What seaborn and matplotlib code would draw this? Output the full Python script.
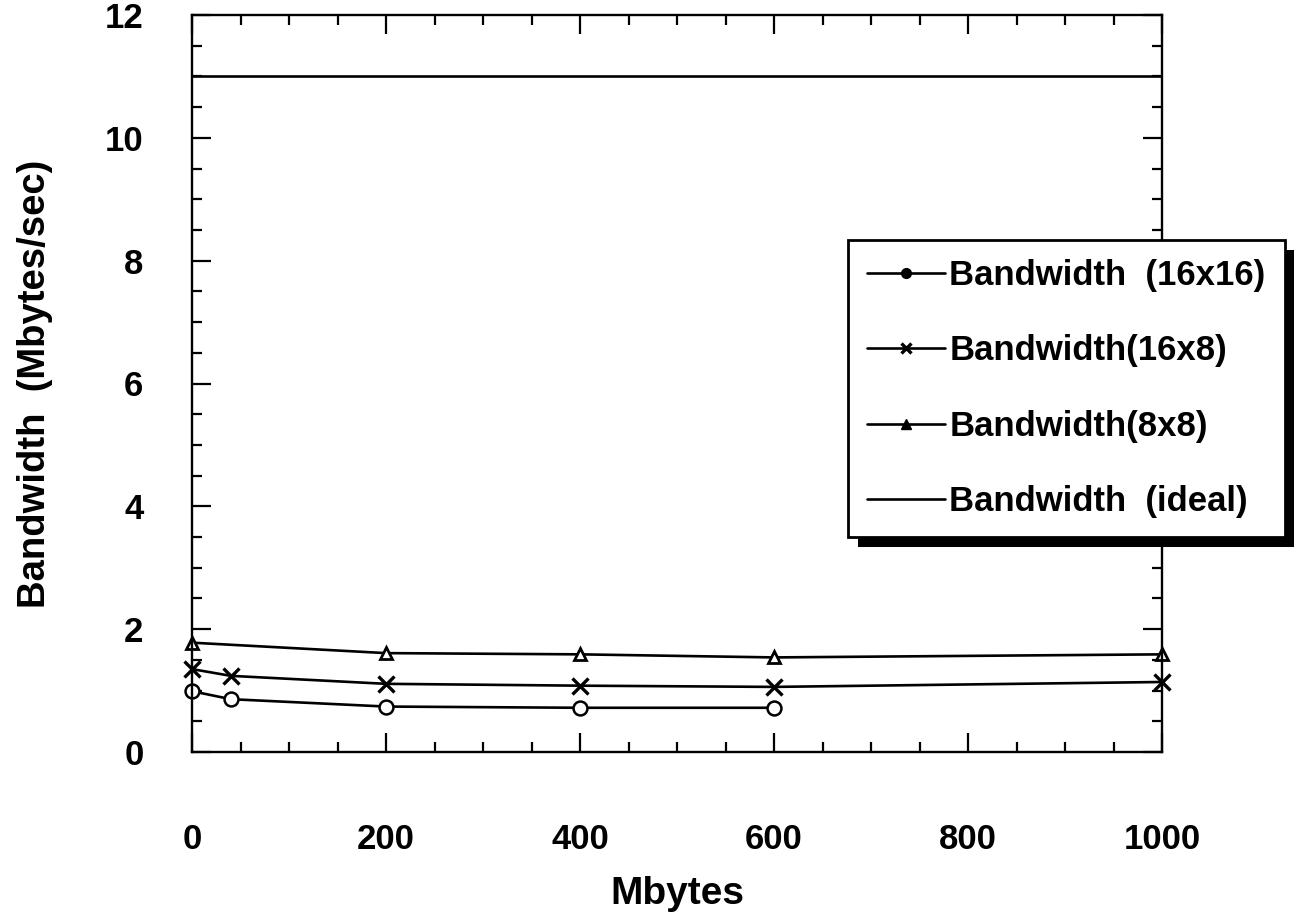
import matplotlib
matplotlib.use("Agg")
import matplotlib.pyplot as plt
import matplotlib.patheffects as pe
from matplotlib.lines import Line2D
from matplotlib.ticker import MultipleLocator
import seaborn as sns

# ---- data ----
x_16x16 = [0, 40, 200, 400, 600]
y_16x16 = [0.99, 0.86, 0.74, 0.72, 0.72]
x_16x8 = [0, 40, 200, 400, 600, 1000]
y_16x8 = [1.35, 1.24, 1.11, 1.08, 1.06, 1.14]
x_8x8 = [0, 200, 400, 600, 1000]
y_8x8 = [1.78, 1.61, 1.59, 1.54, 1.59]
x_ideal = [0, 1000]
y_ideal = [11, 11]
labels = ["Bandwidth  (16x16)", "Bandwidth(16x8)", "Bandwidth(8x8)", "Bandwidth  (ideal)"]
xticks = [0, 200, 400, 600, 800, 1000]
xtick_labels = ["0", "200", "400", "600", "800", "1000"]
yticks = [0, 2, 4, 6, 8, 10, 12]

sns.set_style("ticks")
plt.rcParams["font.family"] = ["Liberation Sans", "DejaVu Sans"]
plt.rcParams["font.weight"] = "bold"
for k in ["text.color", "axes.labelcolor", "xtick.color", "ytick.color", "axes.edgecolor"]:
    plt.rcParams[k] = "black"

fig = plt.figure(figsize=(13.03, 9.24), dpi=100)
ax = fig.add_axes([192 / 1303, 1 - 752 / 924, 970 / 1303, 737 / 924])

lw = 1.9
common = dict(ax=ax, color="black", linewidth=lw, legend=False)
sns.lineplot(x=x_16x16, y=y_16x16, marker="o", markersize=10, markerfacecolor="white",
             markeredgecolor="black", markeredgewidth=1.8, clip_on=False, **common)
sns.lineplot(x=x_16x8, y=y_16x8, marker="x", markersize=11, markeredgecolor="black",
             markeredgewidth=2.4, clip_on=False, **common)
sns.lineplot(x=x_8x8, y=y_8x8, marker="^", markersize=8.5, markerfacecolor="white",
             markeredgecolor="black", markeredgewidth=2.0, clip_on=False, **common)
sns.lineplot(x=x_ideal, y=y_ideal, **common)

ax.set_xlim(0, 1000)
ax.set_ylim(0, 12)
ax.set_xticks(xticks)
ax.set_xticklabels(xtick_labels)
ax.set_yticks(yticks)
ax.xaxis.set_minor_locator(MultipleLocator(50))
ax.yaxis.set_minor_locator(MultipleLocator(0.5))

for s in ax.spines.values():
    s.set_visible(True)
    s.set_linewidth(1.7)
    s.set_color("black")

ax.tick_params(which="both", direction="in", top=True, right=True, width=1.6, color="black")
ax.tick_params(which="major", length=14)
ax.tick_params(which="minor", length=7)
ax.tick_params(axis="x", which="major", pad=51, labelsize=25)
ax.tick_params(axis="y", which="major", pad=35, labelsize=25)
for t in ax.get_xticklabels() + ax.get_yticklabels():
    t.set_fontweight("bold")

ax.set_xlabel("Mbytes", fontsize=28, fontweight="bold")
ax.set_ylabel("Bandwidth  (Mbytes/sec)", fontsize=27.5, fontweight="bold")
ax.xaxis.set_label_coords(0.5, -0.168)
ax.yaxis.set_label_coords(-0.143, 0.5)

handles = [
    Line2D([], [], color="black", lw=lw, marker="o", markersize=7, markerfacecolor="black"),
    Line2D([], [], color="black", lw=lw, marker="x", markersize=7, markeredgewidth=2.4),
    Line2D([], [], color="black", lw=lw, marker="^", markersize=7.5, markerfacecolor="black"),
    Line2D([], [], color="black", lw=lw),
]
leg = fig.legend(handles, labels, loc="upper left", bbox_to_anchor=(848 / 1303, 1 - 240 / 924),
                 prop={"size": 25, "weight": "bold"}, frameon=True, fancybox=False,
                 handlelength=2.25, handletextpad=0.12, borderpad=0.55, labelspacing=1.22,
                 borderaxespad=0)
frame = leg.get_frame()
frame.set_edgecolor("black")
frame.set_linewidth(2.0)
frame.set_facecolor("white")
frame.set_alpha(1)
frame.set_path_effects([pe.SimplePatchShadow(offset=(7, -7), shadow_rgbFace="black", alpha=1),
                        pe.Normal()])

fig.savefig("out.png", dpi=100)
